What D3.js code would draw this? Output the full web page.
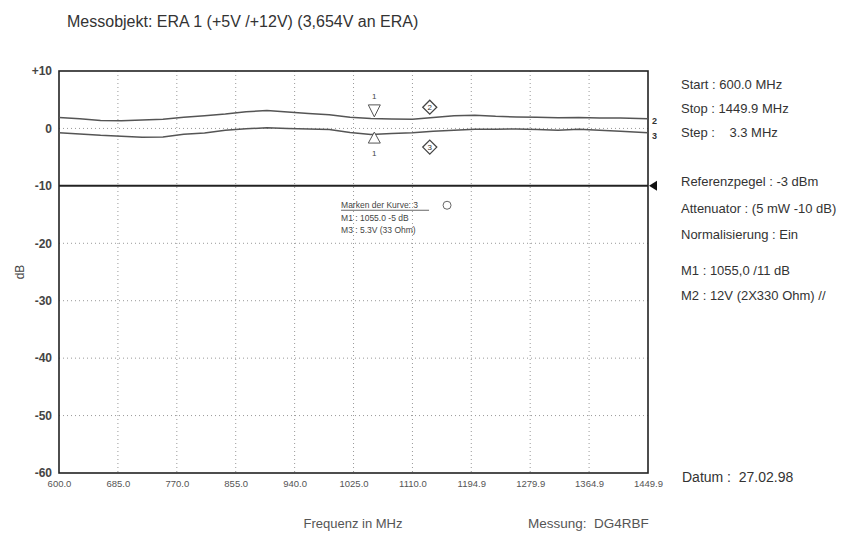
<!DOCTYPE html>
<html>
<head>
<meta charset="utf-8">
<script src="https://cdn.jsdelivr.net/npm/d3@7"></script>
<style>
  body { margin: 0; background: #fff; }
  svg { font-family: "Liberation Sans", Arial, sans-serif; }
</style>
</head>
<body>
<svg id="chart" width="844" height="533"></svg>
<script>
// frequencies (MHz) of the read-off points
var freq = [600, 630, 660, 690, 720, 750, 780, 810, 840, 870, 900, 930, 960, 990, 1020,
    1050, 1080, 1110, 1140, 1170, 1200, 1230, 1260, 1290, 1320, 1350, 1380, 1410, 1449.9];
// Kurve 2 (upper) and Kurve 3 (lower), dB
var kurve2 = [1.9, 1.7, 1.4, 1.35, 1.45, 1.6, 1.95, 2.2, 2.5, 2.9, 3.1, 2.85, 2.6, 2.4, 1.95,
    1.75, 1.65, 1.6, 1.9, 2.2, 2.3, 2.1, 2.0, 1.95, 1.85, 1.9, 1.8, 1.8, 1.7];
var kurve3 = [-0.75, -0.95, -1.2, -1.35, -1.55, -1.5, -1.0, -0.8, -0.3, -0.05, 0.1, 0.0, -0.1, -0.2, -0.7,
    -1.05, -0.9, -0.75, -0.5, -0.3, -0.15, -0.15, -0.1, -0.2, -0.3, -0.15, -0.3, -0.5, -0.75];

var xTicks = [600, 685, 770, 855, 940, 1025, 1110, 1194.9, 1279.9, 1364.9, 1449.9];
var xTickLabels = ["600.0", "685.0", "770.0", "855.0", "940.0", "1025.0", "1110.0", "1194.9", "1279.9", "1364.9", "1449.9"];
var yTicks = [10, 0, -10, -20, -30, -40, -50, -60];
var yTickLabels = ["+10", "0", "-10", "-20", "-30", "-40", "-50", "-60"];

var refLevel = -10;
var marker1 = 1055;
var marker2 = 1135;

var infoLines = ["Start : 600.0 MHz", "Stop : 1449.9 MHz", "Step :    3.3 MHz",
    "Referenzpegel : -3 dBm", "Attenuator : (5 mW -10 dB)", "Normalisierung : Ein",
    "M1 : 1055,0 /11 dB", "M2 : 12V (2X330 Ohm) //"];
var infoY = [84, 108, 132, 181, 208, 234, 270, 295];

var margin = { top: 71, right: 196, bottom: 60, left: 59 },
    width = 844 - margin.left - margin.right,
    height = 533 - margin.top - margin.bottom;

var svg = d3.select("#chart");
var g = svg.append("g").attr("transform", "translate(" + margin.left + "," + margin.top + ")");

var x = d3.scaleLinear().domain([600, 1449.9]).range([0, width]);
var y = d3.scaleLinear().domain([-60, 10]).range([height, 0]);

// grid
g.append("g").selectAll("line").data(xTicks.slice(1, -1)).join("line")
    .attr("x1", d => x(d)).attr("x2", d => x(d))
    .attr("y1", 0).attr("y2", height)
    .attr("stroke", "#999").attr("stroke-width", 1).attr("stroke-dasharray", "1,3");
g.append("g").selectAll("line").data(yTicks.filter(d => d != 10 && d != -60 && d != refLevel)).join("line")
    .attr("x1", 0).attr("x2", width)
    .attr("y1", d => y(d)).attr("y2", d => y(d))
    .attr("stroke", "#999").attr("stroke-width", 1).attr("stroke-dasharray", "1,3");

// reference level
g.append("line")
    .attr("x1", 0).attr("x2", width)
    .attr("y1", y(refLevel)).attr("y2", y(refLevel))
    .attr("stroke", "#222").attr("stroke-width", 2);
g.append("path")
    .attr("d", "M" + (width + 1) + "," + y(refLevel) + "l8,-5l0,10z")
    .attr("fill", "#111");

// frame
g.append("rect").attr("width", width).attr("height", height)
    .attr("fill", "none").attr("stroke", "#222").attr("stroke-width", 1.6);

// axes
var xAxis = d3.axisBottom(x).tickValues(xTicks).tickSize(0).tickPadding(7)
    .tickFormat((d, i) => xTickLabels[i]);
g.append("g").attr("transform", "translate(0," + height + ")").call(xAxis)
    .call(a => a.select(".domain").remove())
    .selectAll("text").attr("font-size", 9.5).attr("fill", "#555")
    .attr("font-family", "Liberation Sans, Arial, sans-serif");

var yAxis = d3.axisLeft(y).tickValues(yTicks).tickSize(0).tickPadding(7)
    .tickFormat((d, i) => yTickLabels[i]);
g.append("g").call(yAxis)
    .call(a => a.select(".domain").remove())
    .selectAll("text").attr("font-size", 12).attr("font-weight", "bold").attr("fill", "#444")
    .attr("font-family", "Liberation Sans, Arial, sans-serif");

// curves
var line = d3.line().x((d, i) => x(freq[i])).y(d => y(d));
[kurve2, kurve3].forEach(function (k) {
    g.append("path").datum(k)
        .attr("fill", "none").attr("stroke", "#555").attr("stroke-width", 1.5)
        .attr("d", line);
});
g.append("text").attr("x", width + 4).attr("y", y(kurve2[kurve2.length - 1]) + 5)
    .attr("font-size", 9).attr("font-weight", "bold").attr("fill", "#333").text("2");
g.append("text").attr("x", width + 4).attr("y", y(kurve3[kurve3.length - 1]) + 6)
    .attr("font-size", 9).attr("font-weight", "bold").attr("fill", "#333").text("3");

// marker 1: triangles
var m1x = x(marker1);
g.append("path").attr("d", "M" + (m1x - 6) + "," + y(4.1) + "l12,0l-6,12z")
    .attr("fill", "#fff").attr("stroke", "#555");
g.append("text").attr("x", m1x).attr("y", y(5.1)).attr("text-anchor", "middle")
    .attr("font-size", 8).attr("fill", "#444").text("1");
g.append("path").attr("d", "M" + (m1x - 6) + "," + y(-2.55) + "l12,0l-6,-11z")
    .attr("fill", "#fff").attr("stroke", "#555");
g.append("text").attr("x", m1x).attr("y", y(-4.8)).attr("text-anchor", "middle")
    .attr("font-size", 8).attr("fill", "#444").text("1");

// marker 2: diamonds
var m2x = x(marker2);
[[3.7, "2"], [-3.25, "3"]].forEach(function (m) {
    g.append("path").attr("d", "M" + m2x + "," + (y(m[0]) - 7) + "l7,7l-7,7l-7,-7z")
        .attr("fill", "#fff").attr("stroke", "#444").attr("stroke-width", 1.3);
    g.append("text").attr("x", m2x).attr("y", y(m[0]) + 3).attr("text-anchor", "middle")
        .attr("font-size", 8).attr("fill", "#333").text(m[1]);
});

// marker box text
var bx = x(1007), by = y(-13.9);
g.append("text").attr("x", bx).attr("y", by).attr("font-size", 8.5).attr("fill", "#444")
    .text("Marken der Kurve: 3");
g.append("line").attr("x1", bx).attr("x2", bx + 88).attr("y1", by + 2).attr("y2", by + 2)
    .attr("stroke", "#555").attr("stroke-width", 0.9);
g.append("circle").attr("cx", bx + 106).attr("cy", by - 3).attr("r", 4)
    .attr("fill", "none").attr("stroke", "#666");
g.append("text").attr("x", bx).attr("y", by + 13).attr("font-size", 8.5).attr("fill", "#444")
    .text("M1 : 1055.0 -5 dB");
g.append("text").attr("x", bx).attr("y", by + 25).attr("font-size", 8.5).attr("fill", "#444")
    .text("M3 : 5.3V  (33 Ohm)");

// title, labels
svg.append("text").attr("x", 67).attr("y", 27).attr("font-size", 16).attr("fill", "#333")
    .text("Messobjekt: ERA 1 (+5V /+12V) (3,654V an ERA)");
svg.append("text").attr("transform", "translate(24," + (margin.top + y(-25)) + ") rotate(-90)")
    .attr("text-anchor", "middle").attr("font-size", 12).attr("fill", "#444").text("dB");
svg.append("text").attr("x", 353).attr("y", 528).attr("text-anchor", "middle")
    .attr("font-size", 13).attr("fill", "#555").text("Frequenz in MHz");
svg.append("text").attr("x", 528).attr("y", 528)
    .attr("font-size", 13.5).attr("fill", "#555").attr("xml:space", "preserve")
    .text("Messung:  DG4RBF");

// info panel
svg.append("g").selectAll("text").data(infoLines).join("text")
    .attr("x", 681).attr("y", (d, i) => infoY[i] + 5)
    .attr("font-size", 13).attr("fill", "#333").attr("xml:space", "preserve")
    .text(d => d);
svg.append("text").attr("x", 682).attr("y", 482).attr("font-size", 14).attr("fill", "#333")
    .attr("xml:space", "preserve")
    .text("Datum :  27.02.98");
</script>
</body>
</html>
